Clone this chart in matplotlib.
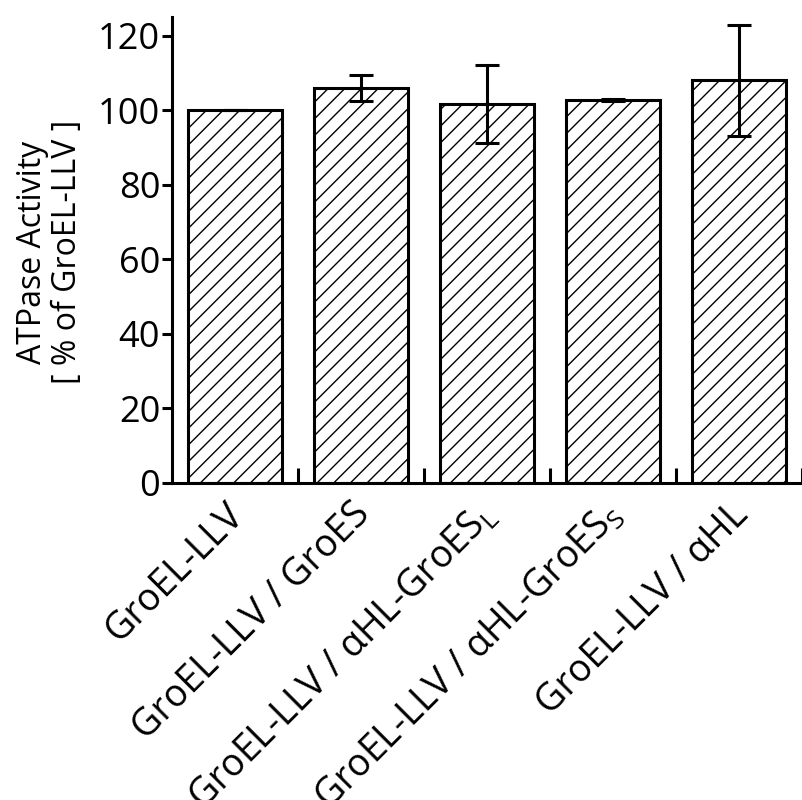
import matplotlib
matplotlib.use("Agg")
import matplotlib.pyplot as plt
import matplotlib.transforms as mtransforms
import numpy as np

# ATPase activity relative to GroEL-LLV alone
categories = [
    "GroEL-LLV",
    "GroEL-LLV / GroES",
    "GroEL-LLV / αHL-GroES$_\\mathregular{L}$",
    "GroEL-LLV / αHL-GroES$_\\mathregular{S}$",
    "GroEL-LLV / αHL",
]
activity = [100.0, 106.0, 101.6, 102.8, 108.0]
activity_err = [0.0, 3.5, 10.5, 0.3, 14.8]
yticks = [0, 20, 40, 60, 80, 100, 120]

plt.rcParams["font.family"] = ["Open Sans", "DejaVu Sans"]
plt.rcParams["hatch.linewidth"] = 1.0
plt.rcParams["mathtext.default"] = "regular"

fig = plt.figure(figsize=(8.02, 8.00), dpi=100)
ax = fig.add_axes([172 / 802, 1 - 483 / 800, 630 / 802, 466 / 800])

x = np.arange(len(categories))
lw = 2.2
ax.bar(x, activity, width=0.75, color="white", edgecolor="black",
       linewidth=lw, hatch="//", zorder=2)
ax.errorbar(x, activity, yerr=activity_err, fmt="none", ecolor="black",
            elinewidth=lw, capsize=8.3, capthick=lw, zorder=3)

ax.set_xlim(-0.5, len(categories) - 0.5)
ax.set_ylim(0, 125)
ax.set_yticks(yticks)
ax.set_xticks(x)
ax.set_xticklabels(categories, rotation=45, ha="right", va="top",
                   rotation_mode="anchor")
ax.set_xticks(np.arange(len(categories)) + 0.5, minor=True)

ax.tick_params(axis="y", direction="out", length=7, width=lw, pad=1.5,
               labelsize=26)
ax.tick_params(axis="x", which="major", length=0, pad=9, labelsize=27)
ax.tick_params(axis="x", which="minor", direction="in", length=11, width=lw)

# nudge the slanted category names left so they end under each bar
shift = mtransforms.ScaledTranslation(-10 / 100, 0, fig.dpi_scale_trans)
for lab in ax.get_xticklabels():
    lab.set_transform(lab.get_transform() + shift)

for side in ("top", "right"):
    ax.spines[side].set_visible(False)
for side in ("left", "bottom"):
    ax.spines[side].set_linewidth(lw)

fig.text(50 / 802, 1 - 252 / 800,
         "ATPase Activity\n[ % of GroEL-LLV ]", rotation=90,
         ha="center", va="center", multialignment="center",
         fontsize=23, linespacing=1.05)

fig.savefig("out.png", dpi=100)
